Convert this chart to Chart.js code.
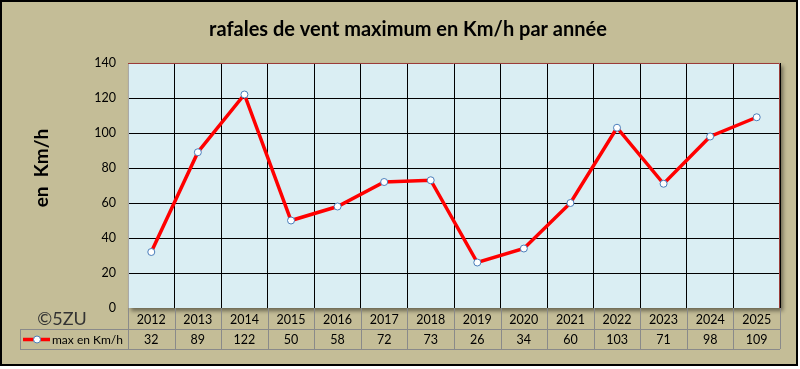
<!DOCTYPE html>
<html><head><meta charset="utf-8">
<script src="https://cdn.jsdelivr.net/npm/chart.js@4"></script>
<style>html,body{margin:0;padding:0;background:#fff;}canvas{display:block;}</style>
</head><body>
<canvas id="c" width="800" height="369"></canvas>
<script>
const years = ['2012','2013','2014','2015','2016','2017','2018','2019','2020','2021','2022','2023','2024','2025'];
const maxKmh = [32, 89, 122, 50, 58, 72, 73, 26, 34, 60, 103, 71, 98, 109];
const seriesName = 'max en Km/h';
const chartTitle = 'rafales de vent maximum en Km/h par année';
const yTitle = 'en  Km/h';
const signature = '©5ZU';
const yMin = 0, yMax = 140, yStep = 20;

const FONT = 'Lato, "Open Sans", sans-serif';
const TAN = '#C4BD97';

const decor = {
  id: 'decor',
  beforeDraw(chart) {
    const ctx = chart.ctx, a = chart.chartArea;
    ctx.save();
    ctx.fillStyle = '#fff';
    ctx.fillRect(0, 0, chart.width, chart.height);
    ctx.fillStyle = TAN;
    ctx.fillRect(0, 0, 798, 366);
    ctx.strokeStyle = '#000';
    ctx.lineWidth = 2;
    ctx.strokeRect(1, 1, 796, 364);
    ctx.shadowColor = 'rgba(0,0,0,0.45)';
    ctx.shadowBlur = 4;
    ctx.shadowOffsetX = 3;
    ctx.shadowOffsetY = 3;
    ctx.fillStyle = '#DAEEF3';
    ctx.fillRect(a.left, a.top, a.right - a.left, a.bottom - a.top);
    ctx.restore();
  },
  beforeDatasetsDraw(chart) {
    const ctx = chart.ctx, a = chart.chartArea;
    ctx.save();
    ctx.lineWidth = 1;
    ctx.strokeStyle = '#A9A9A9';
    ctx.beginPath();
    ctx.moveTo(a.left + 0.5, a.top);
    ctx.lineTo(a.left + 0.5, a.bottom);
    ctx.stroke();
    ctx.strokeStyle = '#9B3B38';
    ctx.beginPath();
    ctx.moveTo(a.left, a.top + 0.5);
    ctx.lineTo(a.right - 0.5, a.top + 0.5);
    ctx.lineTo(a.right - 0.5, a.bottom);
    ctx.stroke();
    ctx.restore();
  },
  afterDraw(chart) {
    const ctx = chart.ctx, a = chart.chartArea;
    const xs = chart.scales.x;
    const n = years.length;
    const w = (xs.right - xs.left) / n;
    ctx.save();
    ctx.fillStyle = '#000';
    ctx.textAlign = 'center';
    ctx.textBaseline = 'middle';
    ctx.font = 'bold 20px ' + FONT;
    ctx.fillText(chartTitle, 408, 30);
    ctx.save();
    ctx.translate(42, 168);
    ctx.rotate(-Math.PI / 2);
    ctx.font = 'bold 19px ' + FONT;
    ctx.fillText(yTitle, 0, 0);
    ctx.restore();
    ctx.font = '18px ' + FONT;
    ctx.fillStyle = '#333';
    ctx.fillText(signature, 62, 319);
    const r0 = a.bottom, r1 = 329, r2 = 349;
    ctx.strokeStyle = '#8A8A8A';
    ctx.lineWidth = 1;
    ctx.beginPath();
    ctx.moveTo(20, r1 + 0.5); ctx.lineTo(xs.right, r1 + 0.5);
    ctx.moveTo(20, r2 + 0.5); ctx.lineTo(xs.right, r2 + 0.5);
    ctx.moveTo(20.5, r1); ctx.lineTo(20.5, r2);
    for (let i = 0; i <= n; i++) {
      const bx = Math.round(xs.left + i * w) + 0.5;
      ctx.moveTo(bx, r0); ctx.lineTo(bx, r2);
    }
    ctx.stroke();
    ctx.fillStyle = '#000';
    ctx.font = '12.5px ' + FONT;
    for (let i = 0; i < n; i++) {
      const cx = xs.getPixelForValue(i);
      ctx.fillText(years[i], cx, (r0 + r1) / 2 + 1);
      ctx.fillText(String(maxKmh[i]), cx, (r1 + r2) / 2 + 1);
    }
    ctx.strokeStyle = '#FF0000';
    ctx.lineWidth = 3.5;
    ctx.beginPath();
    ctx.moveTo(23, 339.5); ctx.lineTo(50, 339.5);
    ctx.stroke();
    ctx.beginPath();
    ctx.arc(37, 339.5, 3.5, 0, Math.PI * 2);
    ctx.fillStyle = '#fff';
    ctx.fill();
    ctx.lineWidth = 1;
    ctx.strokeStyle = '#4A7EBB';
    ctx.stroke();
    ctx.fillStyle = '#000';
    ctx.textAlign = 'left';
    ctx.font = '12px ' + FONT;
    ctx.fillText(seriesName, 52, 340);
    ctx.restore();
  }
};

new Chart(document.getElementById('c'), {
  type: 'line',
  data: {
    labels: years,
    datasets: [{
      label: seriesName,
      data: maxKmh,
      borderColor: '#FF0000',
      borderWidth: 3.5,
      tension: 0,
      pointRadius: 3.5,
      pointBackgroundColor: '#FFFFFF',
      pointBorderColor: '#4A7EBB',
      pointBorderWidth: 1,
      clip: false
    }]
  },
  options: {
    responsive: false,
    animation: false,
    devicePixelRatio: 1,
    layout: { padding: { top: 63, bottom: 61, left: 0, right: 20 } },
    plugins: { legend: { display: false }, title: { display: false }, tooltip: { enabled: false } },
    scales: {
      x: {
        offset: true,
        grid: {
          offset: true,
          drawTicks: false,
          color: (c) => (c.index === 0 ? 'rgba(0,0,0,0)' : '#000'),
          lineWidth: 1
        },
        border: { display: false },
        ticks: { display: false },
        afterFit: (s) => { s.height = 0; }
      },
      y: {
        min: yMin, max: yMax,
        ticks: { stepSize: yStep, padding: 12, color: '#000', font: { family: FONT, size: 12.5 } },
        grid: {
          drawTicks: false,
          color: (c) => (c.tick && (c.tick.value === yMin || c.tick.value === yMax) ? 'rgba(0,0,0,0)' : '#000'),
          lineWidth: 1
        },
        border: { display: false },
        afterFit: (s) => { s.width = 128; }
      }
    }
  },
  plugins: [decor]
});
</script>
</body></html>
